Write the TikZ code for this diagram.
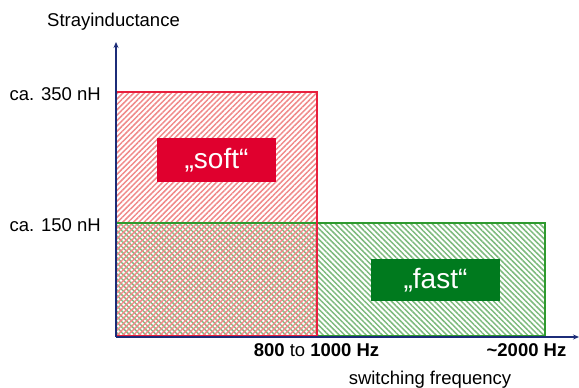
\documentclass[tikz,border=0pt]{standalone}
\usepackage{fontspec}
\setmainfont{Liberation Sans}
\usetikzlibrary{patterns.meta,arrows.meta}
\definecolor{softred}{HTML}{E0002E}
\definecolor{hatchred}{HTML}{F08A8A}
\definecolor{fastgreen}{HTML}{007A1E}
\definecolor{hatchgreen}{HTML}{7DBA7D}
\definecolor{borderred}{HTML}{E8203E}
\definecolor{bordergreen}{HTML}{2E9A2E}
\definecolor{axisblue}{HTML}{1C2C78}
\tikzset{
  lbl/.style={font=\fontsize{18.5}{20}\selectfont, text=black, inner sep=0pt},
  tag/.style={font=\fontsize{28}{30}\selectfont, text=white, inner sep=0pt, anchor=center},
  axis/.style={draw=axisblue, line width=1.8pt, -{Stealth[length=6pt,width=5pt]}},
}
\begin{document}
\begin{tikzpicture}[x=1pt,y=-1pt]
\useasboundingbox (0,0) rectangle (579,388);
% hatched regions
\path[pattern={Lines[angle=-45,distance=3.8pt,line width=1.5pt]}, pattern color=hatchgreen]
  (116,223) rectangle (545,336);
\path[pattern={Lines[angle=45,distance=3.8pt,line width=1.5pt]}, pattern color=hatchred]
  (116,92) rectangle (317,336);
% borders
\draw[bordergreen, line width=1.4pt] (116,223) rectangle (545,336);
\draw[borderred, line width=1.2pt] (116,92) rectangle (317,336);
% tag boxes
\node[tag, fill=softred, minimum width=119pt, minimum height=44pt] (soft) at (216.5,160) {„soft“};
\node[tag, fill=fastgreen, minimum width=129pt, minimum height=42pt] (fast) at (435.5,280) {„fast“};
% axes
\coordinate (O) at (116,337);
\coordinate (ytop) at (116,42);
\coordinate (xend) at (579,337);
\draw[axis] (O) -- (ytop);
\draw[axis] (O) -- (xend);
% labels
\node[lbl] (ylab) at (113.5,22) {Strayinductance};
\node[lbl, anchor=east] (l350) at (101,94) {ca. 350 nH};
\node[lbl, anchor=east] (l150) at (101,225) {ca. 150 nH};
\node[lbl] (f1) at (316.5,350) {\textbf{800} to \textbf{1000 Hz}};
\node[lbl] (f2) at (526.5,350) {\textbf{\textasciitilde 2000 Hz}};
\node[lbl] (xlab) at (430,380) {switching frequency};
\end{tikzpicture}
\end{document}
